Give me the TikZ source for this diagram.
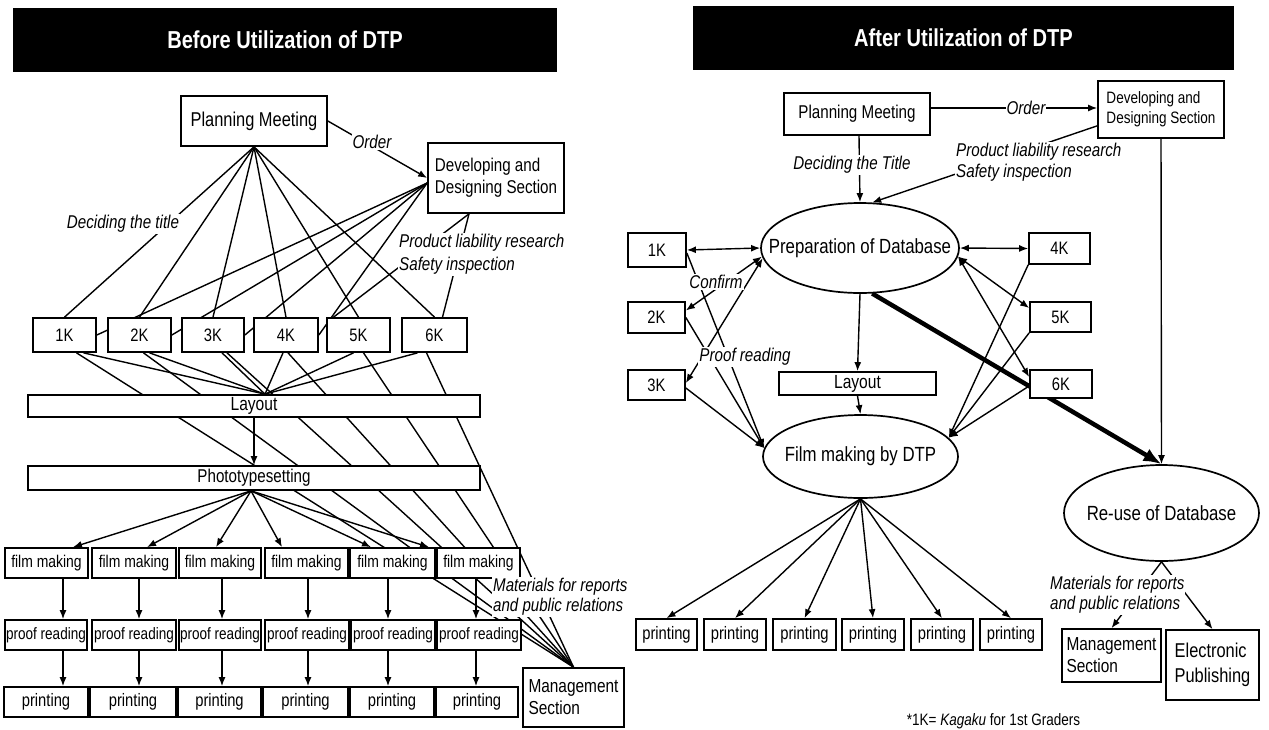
\documentclass[tikz,border=0pt]{standalone}
\usepackage{fontspec}
\setmainfont{Liberation Sans}[FakeStretch=0.82]
\usetikzlibrary{arrows.meta,shapes.geometric,backgrounds,calc}
\newcommand\fsz[2]{\fontsize{#1}{#2}\selectfont}
\begin{document}
\begin{tikzpicture}[x=1pt,y=-1pt,
  box/.style={draw,line width=1.7pt,fill=white,inner sep=0pt,align=center},
  ell/.style={draw,ellipse,line width=1.7pt,fill=white,inner sep=0pt},
  tbar/.style={fill=black,text=white,inner sep=0pt,font=\bfseries\fsz{24.5}{28}},
  lab/.style={fill=white,inner sep=1pt,font=\itshape\fsz{18.5}{21}},
  ln/.style={line width=1.4pt},
  arr/.style={ln,-{Latex[length=9pt,width=7pt]}},
  darr/.style={ln,{Latex[length=9pt,width=7pt]}-{Latex[length=9pt,width=7pt]}},
  bigarr/.style={line width=4.5pt,-{Latex[length=18pt,width=14pt]}}
]
\useasboundingbox (0,0) rectangle (1269,729);

% ===================== LEFT =====================
\node[tbar,minimum width=544pt,minimum height=64pt] (tL) at (285,40) {Before Utilization of DTP};
\node[box,minimum width=146pt,minimum height=50pt,font=\fsz{20}{23}] (pmL) at (254,121) {Planning Meeting};
\node[box,minimum width=136pt,minimum height=70pt,align=left,font=\fsz{18.5}{22}] (devL) at (496,178) {Developing and\\Designing Section};
\foreach \k/\x/\w in {1/64.5/63,2/139.5/63,3/213/62,4/286/64,5/358.5/63,6/434.5/65}
  \node[box,minimum width=\w pt,minimum height=34pt,font=\fsz{18}{20}] (kL\k) at (\x,335) {\k K};
\node[box,minimum width=452pt,minimum height=22pt,font=\fsz{19}{21}] (layL) at (254,406) {Layout};
\node[box,minimum width=452pt,minimum height=24pt,font=\fsz{18.5}{21}] (phoL) at (254,478) {Phototypesetting};
\foreach \k/\x/\w in {1/46.5/83,2/134/84,3/220/82,4/306.5/83,5/392.5/85,6/478.5/83}
  \node[box,minimum width=\w pt,minimum height=30pt,font=\fsz{17}{19}] (fL\k) at (\x,563) {film making};
\foreach \k/\x/\w in {1/46/82,2/134/84,3/220/82,4/307/84,5/393/84,6/479/84}
  \node[box,minimum width=\w pt,minimum height=30pt,font=\fsz{16.5}{19}] (rL\k) at (\x,635) {proof reading};
\foreach \k/\x/\w in {1/46/84,2/133/86,3/219.5/83,4/305.5/85,5/392/84,6/477/82}
  \node[box,minimum width=\w pt,minimum height=30pt,font=\fsz{18}{20}] (pL\k) at (\x,702) {printing};
\node[box,minimum width=101pt,minimum height=59pt,align=left,font=\fsz{18.8}{22}] (mgL) at (573.5,697.5) {Management\\Section};

\node[lab] (ordL) at (372,142) {Order};
\node[lab] (decL) at (123,224) {Deciding the title};
\node[lab,anchor=west,align=left,font=\itshape\fsz{18.5}{23}] (plL) at (398,254.5) {Product liability research\\Safety inspection};
\node[lab,anchor=west,align=left,font=\itshape\fsz{18.4}{20}] (matL) at (492,597) {Materials for reports\\and public relations};

\foreach \k/\x in {1/63,2/139,3/222,4/308,5/388,6/476}
  \coordinate (xa\k) at (\x,0);
\coordinate (cvL) at ([xshift=11pt]layL.north);

% ===================== RIGHT =====================
\node[tbar,minimum width=541pt,minimum height=64pt] (tR) at (963.5,38) {After Utilization of DTP};
\node[box,minimum width=146pt,minimum height=42pt,font=\fsz{18.5}{21}] (pmR) at (857,114) {Planning Meeting};
\node[box,minimum width=126pt,minimum height=57pt,align=left,font=\fsz{16.5}{20}] (devR) at (1161,109.5) {Developing and\\Designing Section};
\node[ell,minimum width=198pt,minimum height=90pt] (prep) at (860,248) {};
\node[font=\fsz{20.5}{23}] (prepT) at (prep) {Preparation of Database};
\node[ell,minimum width=195pt,minimum height=83pt] (film) at (860.5,456.5) {};
\node[font=\fsz{20.5}{23}] (filmT) at (film) {Film making by DTP};
\node[ell,minimum width=195pt,minimum height=96pt] (reuse) at (1161.5,513) {};
\node[font=\fsz{20.5}{23}] (reuseT) at (reuse) {Re-use of Database};
\foreach \k/\x/\y/\w/\h in {1/657/250/58/34,2/656.5/317.5/57/31,3/656.5/385/57/30,4/1059.5/248.5/61/31,5/1060.5/317/61/30,6/1061/384/62/28}
  \node[box,minimum width=\w pt,minimum height=\h pt,font=\fsz{18}{20}] (kR\k) at (\x,\y) {\k K};
\node[box,minimum width=157pt,minimum height=23pt,font=\fsz{19}{21}] (layR) at (857.5,383.5) {Layout};
\foreach \k/\x/\w in {1/666.5/61,2/735/62,3/804.5/63,4/873/62,5/942/62,6/1011/62}
  \node[box,minimum width=\w pt,minimum height=31pt,font=\fsz{18}{20}] (pR\k) at (\x,634.5) {printing};
\node[box,minimum width=99pt,minimum height=53pt,align=left,font=\fsz{18.8}{22}] (mgR) at (1111.5,655.5) {Management\\Section};
\node[box,minimum width=93pt,minimum height=70pt,align=left,font=\fsz{20}{25}] (elR) at (1212.5,665) {Electronic\\Publishing};

\node[lab] (ordR) at (1026,108) {Order};
\node[lab] (decR) at (852,165) {Deciding the Title};
\node[lab,anchor=west,align=left,font=\itshape\fsz{18.5}{21}] (plR) at (955,162.5) {Product liability research\\Safety inspection};
\node[lab] (conf) at (716,282) {Confirm};
\node[lab] (proof) at (745,357) {Proof reading};
\node[lab,anchor=west,align=left,font=\itshape\fsz{18.4}{20}] (matR) at (1049,595) {Materials for reports\\and public relations};
\node[font=\fsz{16.5}{19},anchor=base,inner sep=0pt] (foot) at (993.5,725) {*1K= \textit{Kagaku} for 1st Graders};

% ===================== CONNECTORS =====================
\begin{pgfonlayer}{background}
% left
\draw[arr] (pmL.east) -- (devL.west);
\foreach \k in {1,...,6} \draw[ln] (pmL.south) -- (kL\k.north);
\foreach \k in {1,...,4} \draw[ln] ([yshift=-5pt]devL.west) -- (kL\k.east);
\draw[ln] ([xshift=-27pt]devL.south) -- ([xshift=-25pt]kL5.north);
\draw[ln] ([xshift=-27pt]devL.south) -- ([xshift=8pt]kL6.north);
\foreach \k/\s in {1/19,2/10,3/9,4/-3,5/-5,6/-17}
  \draw[ln] ([xshift=\s pt]kL\k.south) -- (cvL);
\foreach \k/\s in {1/12,2/4,3/14,4/2,5/5,6/-8}
  \draw[ln] ([xshift=\s pt]kL\k.south) -- (mgL.north);
\draw[arr] (layL.south) -- (phoL.north);
\foreach \k/\s in {1/26.5,2/13,3/-4,4/-24.5,5/-21.5,6/-49.5}
  \draw[arr] ([xshift=-3pt]phoL.south) -- ([xshift=\s pt]fL\k.north);
\foreach \k in {1,...,6} {
  \draw[arr] (fL\k.south -| xa\k) -- (rL\k.north -| xa\k);
  \draw[arr] (rL\k.south -| xa\k) -- (pL\k.north -| xa\k);
}
% right
\draw[arr] ([yshift=6pt]pmR.east) -- ([yshift=1.5pt]devR.west);
\draw[arr] ([xshift=2pt]pmR.south) -- (prep.north);
\draw[arr] ([yshift=13pt]devR.south west) -- (prep.75);
\draw[arr] (devR.south) -- (reuse.north);
\draw[darr] (kR1.east) -- (prep.west);
\draw[darr] (prep.east) -- (kR4.west);
\draw[darr] (prep.185) -- ([yshift=7pt]kR2.east);
\draw[darr] (prep.186) -- ([yshift=2pt]kR3.east);
\draw[arr] ([yshift=-3pt]kR1.east) -- (film.175);
\draw[arr] (kR2.east) -- (film.175);
\draw[arr] ([yshift=-3pt]kR3.east) -- (film.175);
\draw[darr] (prep.-5) -- ([yshift=9pt]kR5.west);
\draw[darr] (prep.-5) -- ([yshift=7pt]kR6.west);
\draw[arr] (kR4.south west) -- (film.12);
\draw[arr] (kR5.south west) -- (film.12);
\draw[arr] ([yshift=-2pt]kR6.west) -- (film.12);
\draw[arr] (prep.south) -- (layR.north);
\draw[arr] (layR.south) -- (film.north);
\foreach \k in {1,...,6} \draw[arr] (film.south) -- (pR\k.north);
\draw[bigarr] (prep.-75) -- (reuse.north);
\draw[arr] (reuse.south) -- (elR.north);
\draw[arr] (reuse.south) -- (mgR.north);
\end{pgfonlayer}
\end{tikzpicture}
\end{document}
